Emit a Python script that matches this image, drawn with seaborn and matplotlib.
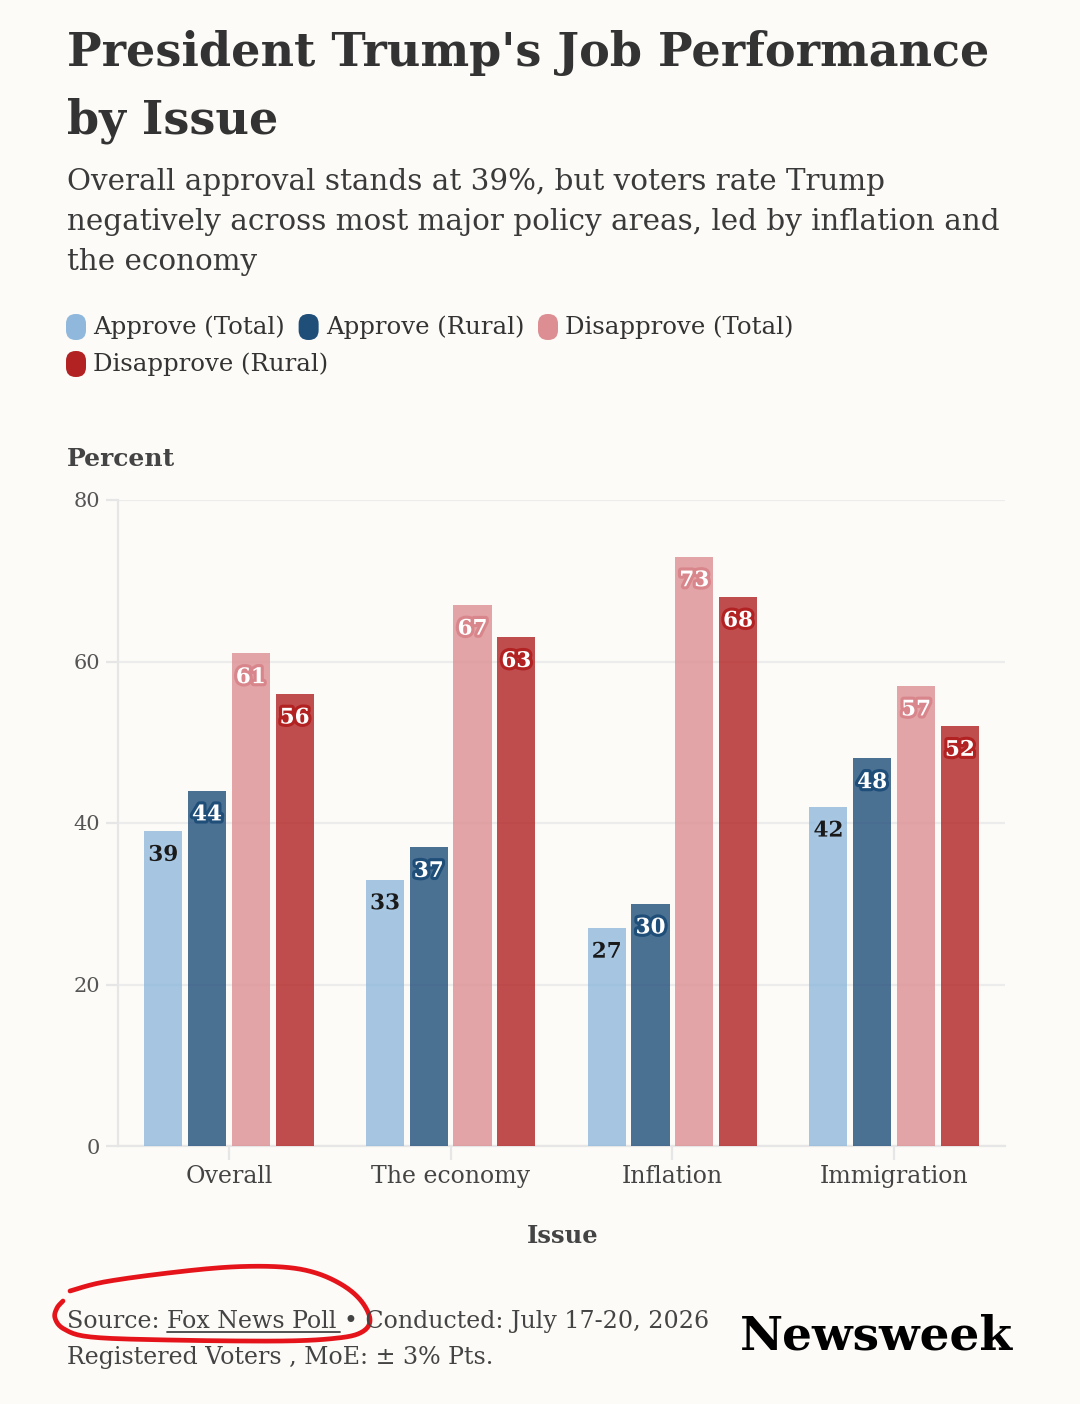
import matplotlib
matplotlib.use("Agg")
import matplotlib.pyplot as plt
import seaborn as sns
import pandas as pd
import numpy as np
from matplotlib.patches import FancyBboxPatch
import matplotlib.patheffects as pe
from matplotlib.lines import Line2D

# ---------------- data ----------------
issues = ["Overall", "The economy", "Inflation", "Immigration"]
series = ["Approve (Total)", "Approve (Rural)", "Disapprove (Total)", "Disapprove (Rural)"]
approve_total = [39, 33, 27, 42]
approve_rural = [44, 37, 30, 48]
disapprove_total = [61, 67, 73, 57]
disapprove_rural = [56, 63, 68, 52]
y_ticks = [0, 20, 40, 60, 80]

colors = ["#8fb8dc", "#1f4e79", "#dc8e92", "#b22222"]
halo = ["#a7c6e2", "#1f4e79", "#d8868b", "#b22222"]
label_colors = ["#1a1a1a", "white", "white", "white"]

BG = "#fcfbf7"
W, H = 1080, 1404

sns.set_theme(style="white")
plt.rcParams["font.family"] = ["DejaVu Serif", "DejaVu Sans"]

df = pd.DataFrame({
    "Issue": issues * 4,
    "Series": np.repeat(series, len(issues)),
    "Percent": approve_total + approve_rural + disapprove_total + disapprove_rural,
})

fig = plt.figure(figsize=(W / 100, H / 100), dpi=100, facecolor=BG)


def fx(x):
    return x / W


def fy(y):
    return 1 - y / H


ax = fig.add_axes([fx(118), fy(1146), (1005 - 118) / W, (1146 - 500) / H])
ax.set_facecolor(BG)

sns.barplot(data=df, x="Issue", y="Percent", hue="Series", order=issues,
            hue_order=series, palette=colors, saturation=1, alpha=0.8,
            width=0.79, gap=0.13, errorbar=None, legend=False, ax=ax, zorder=3,
            linewidth=0, edgecolor="none")

ax.set_xlim(-0.5, 3.5)
ax.set_ylim(0, 80)
ax.set_yticks(y_ticks)
ax.set_yticklabels([str(v) for v in y_ticks])
ax.set_xlabel("")
ax.set_ylabel("")

for s in ["top", "right"]:
    ax.spines[s].set_visible(False)
for s in ["left", "bottom"]:
    ax.spines[s].set_color("#e6e6e6")
    ax.spines[s].set_linewidth(1.6)
    ax.spines[s].set_zorder(1)
ax.yaxis.grid(True, color="#ececec", linewidth=1.6, zorder=0)
ax.set_axisbelow(True)
ax.tick_params(axis="y", length=9, width=1.6, color="#e6e6e6", pad=4,
               labelsize=15, labelcolor="#555555", left=True)
ax.tick_params(axis="x", length=10, width=1.6, color="#e6e6e6", pad=4,
               labelsize=17, labelcolor="#444444", bottom=True)

# value labels
for i, cont in enumerate(ax.containers):
    labs = ax.bar_label(cont, fmt="%d", padding=-25, fontsize=15.5,
                        fontweight="bold", color=label_colors[i], zorder=5)
    for t in labs:
        t.set_path_effects([pe.withStroke(linewidth=4.5, foreground=halo[i])])

fig.canvas.draw()
renderer = fig.canvas.get_renderer()


def fit(t, width_px):
    w = t.get_window_extent(renderer).width
    t.set_fontsize(t.get_fontsize() * width_px / w)
    return t


def width_of(t):
    return t.get_window_extent(renderer).width


# ---------------- title & subtitle ----------------
TXT = "#333333"
t1 = fig.text(fx(67), fy(66), "President Trump's Job Performance", fontsize=40,
              fontweight="bold", color=TXT, va="baseline", ha="left")
fit(t1, 923)
t2 = fig.text(fx(67), fy(133), "by Issue", fontsize=t1.get_fontsize(),
              fontweight="bold", color=TXT, va="baseline", ha="left")

sub_lines = ["Overall approval stands at 39%, but voters rate Trump",
             "negatively across most major policy areas, led by inflation and",
             "the economy"]
s2 = fig.text(fx(67), fy(230), sub_lines[1], fontsize=20, color="#3a3a3a",
              va="baseline", ha="left")
fit(s2, 930)
fig.text(fx(67), fy(190), sub_lines[0], fontsize=s2.get_fontsize(),
         color="#3a3a3a", va="baseline", ha="left")
fig.text(fx(67), fy(270), sub_lines[2], fontsize=s2.get_fontsize(),
         color="#3a3a3a", va="baseline", ha="left")

# ---------------- legend ----------------
probe = fig.text(0, 0, series[0], fontsize=18)
fit(probe, 192)
leg_fs = probe.get_fontsize()
probe.remove()
rows = [(series[:3], colors[:3], 327), (series[3:], colors[3:], 364)]
for names, cols, yc in rows:
    x = 66
    for name, col in zip(names, cols):
        box = FancyBboxPatch((fx(x), fy(yc + 13)), 20 / W, 26 / H,
                             boxstyle="round,pad=0,rounding_size=0.009",
                             transform=fig.transFigure, facecolor=col,
                             edgecolor="none", mutation_aspect=W / H)
        fig.add_artist(box)
        tt = fig.text(fx(x + 27), fy(yc), name, fontsize=leg_fs, color=TXT,
                      va="center", ha="left")
        x = x + 27 + width_of(tt) + 14

# ---------------- axis titles ----------------
pt = fig.text(fx(67), fy(466), "Percent", fontsize=18, fontweight="bold",
              color="#444444", va="baseline", ha="left")
fit(pt, 108)
it = fig.text(fx(563), fy(1243), "Issue", fontsize=18, fontweight="bold",
              color="#444444", va="baseline", ha="center")
fit(it, 72)

# ---------------- footer ----------------
FT = "#444444"
parts = ["Source: ", "Fox News Poll ", "• Conducted: July 17-20, 2026"]
probe = fig.text(0, 0, "".join(parts), fontsize=16)
fit(probe, 645)
foot_fs = probe.get_fontsize()
probe.remove()
x = 67
for k, p in enumerate(parts):
    tt = fig.text(fx(x), fy(1328), p, fontsize=foot_fs, color=FT,
                  va="baseline", ha="left")
    w = width_of(tt)
    if k == 1:
        fig.add_artist(Line2D([fx(x), fx(x + w - 4)], [fy(1332), fy(1332)],
                              transform=fig.transFigure, color=FT, lw=1.3))
    x += w
fig.text(fx(67), fy(1364), "Registered Voters , MoE: ± 3% Pts.", fontsize=foot_fs,
         color=FT, va="baseline", ha="left")

nw = fig.text(fx(740), fy(1350), "Newsweek", fontsize=30, fontweight="bold",
              color="#000000", va="baseline", ha="left")
fit(nw, 273)

# ---------------- hand-drawn red circle annotation ----------------
pts = np.array([
    (70, 1291), (104, 1282), (168, 1273), (231, 1267), (282, 1267),
    (316, 1273), (344, 1286), (362, 1302), (370, 1320), (362, 1332), (338, 1338),
    (282, 1341), (168, 1340), (91, 1337), (64, 1329), (55, 1318), (57, 1308),
    (63, 1301)], dtype=float)


def catmull(p, n=12):
    out = []
    P = np.vstack([p[0], p, p[-1]])
    for i in range(1, len(P) - 2):
        p0, p1, p2, p3 = P[i - 1], P[i], P[i + 1], P[i + 2]
        for tt in np.linspace(0, 1, n, endpoint=False):
            t2_, t3_ = tt * tt, tt * tt * tt
            out.append(0.5 * ((2 * p1) + (-p0 + p2) * tt +
                              (2 * p0 - 5 * p1 + 4 * p2 - p3) * t2_ +
                              (-p0 + 3 * p1 - 3 * p2 + p3) * t3_))
    out.append(P[-2])
    return np.array(out)


curve = catmull(pts)
fig.add_artist(Line2D(curve[:, 0] / W, 1 - curve[:, 1] / H,
                      transform=fig.transFigure, color="#e5141b", lw=3.4,
                      solid_capstyle="round", solid_joinstyle="round"))

fig.savefig("out.png", dpi=100, facecolor=BG)
